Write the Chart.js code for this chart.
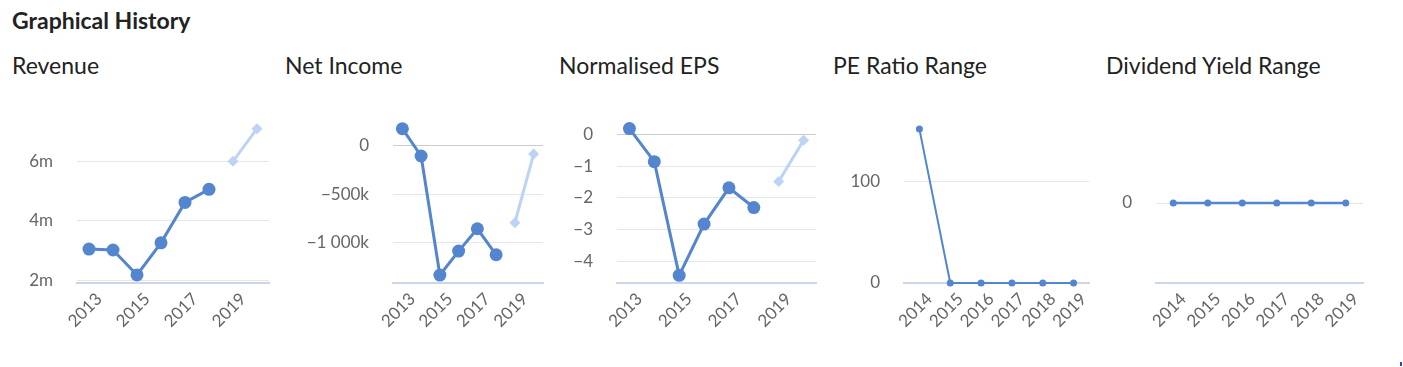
<!DOCTYPE html>
<html>
<head>
<meta charset="utf-8">
<script src="https://cdn.jsdelivr.net/npm/chart.js@4"></script>
<style>
  body { margin: 0; background: #fff; font-family: Lato, sans-serif; }
  .wrap { position: relative; width: 1403px; height: 367px; overflow: hidden; }
  h2 { position: absolute; left: 12px; top: 9px; margin: 0; font-size: 23px; line-height: 1; font-weight: 700; color: #222; }
  .sub { position: absolute; top: 54px; margin: 0; font-size: 23px; line-height: 1; font-weight: 400; color: #222; white-space: nowrap; }
  .box { position: absolute; top: 100px; height: 250px; }
  .dot { position: absolute; left: 1400px; top: 362px; width: 2px; height: 4px; background: #2a3cf0; }
</style>
</head>
<body>
<div class="wrap">
  <h2>Graphical History</h2>
  <div class="sub" style="left:12px">Revenue</div>
  <div class="sub" style="left:285px">Net Income</div>
  <div class="sub" style="left:559px">Normalised EPS</div>
  <div class="sub" style="left:833px">PE Ratio Range</div>
  <div class="sub" style="left:1106px">Dividend Yield Range</div>

  <div class="box" style="left:10px;width:270px"><canvas id="revenue"></canvas></div>
  <div class="box" style="left:285px;width:270px"><canvas id="netIncome"></canvas></div>
  <div class="box" style="left:555px;width:275px"><canvas id="eps"></canvas></div>
  <div class="box" style="left:830px;width:270px"><canvas id="pe"></canvas></div>
  <div class="box" style="left:1100px;width:300px"><canvas id="dividend"></canvas></div>
  <div class="dot"></div>
</div>
<script>
// data
const years = ['2013', '2014', '2015', '2016', '2017', '2018', '2019', '2020'];
const rangeYears = ['2014', '2015', '2016', '2017', '2018', '2019'];

const revenueActual = [3050000, 3020000, 2180000, 3260000, 4620000, 5060000, null, null];
const revenueForecast = [null, null, null, null, null, null, 6000000, 7100000];
const revenueTicks = [2000000, 4000000, 6000000];
const revenueTickLabels = ['2m', '4m', '6m'];

const netIncomeActual = [175000, -106000, -1333000, -1086000, -856000, -1124000, null, null];
const netIncomeForecast = [null, null, null, null, null, null, -794000, -86000];
const netIncomeTicks = [0, -500000, -1000000];
const netIncomeTickLabels = ['0', '\u2212500k', '\u22121 000k'];

const epsActual = [0.18, -0.86, -4.43, -2.82, -1.68, -2.30, null, null];
const epsForecast = [null, null, null, null, null, null, -1.48, -0.19];
const epsTicks = [0, -1, -2, -3, -4];
const epsTickLabels = ['0', '\u22121', '\u22122', '\u22123', '\u22124'];

const peValues = [151, 0, 0, 0, 0, 0];
const peTicks = [0, 100];
const peTickLabels = ['0', '100'];

const dividendValues = [0, 0, 0, 0, 0, 0];
const dividendTicks = [0];
const dividendTickLabels = ['0'];

Chart.defaults.font.family = 'Lato';
Chart.defaults.color = '#666666';

const BLUE = '#5485cf';
const LIGHT = '#bdd3f6';

function lineChart(id, o) {
  const datasets = [{
    data: o.actual,
    borderColor: BLUE,
    backgroundColor: BLUE,
    borderWidth: o.lw,
    pointRadius: o.pr,
    pointHoverRadius: o.pr,
    pointBorderWidth: 0,
    pointStyle: 'circle',
    clip: false
  }];
  if (o.forecast) {
    datasets.push({
      data: o.forecast,
      borderColor: LIGHT,
      backgroundColor: LIGHT,
      borderWidth: o.lw,
      pointRadius: 5.5,
      pointHoverRadius: 5.5,
      pointBorderWidth: 0,
      pointStyle: 'rectRot',
      clip: false
    });
  }
  new Chart(document.getElementById(id), {
    type: 'line',
    data: { labels: o.labels, datasets: datasets },
    options: {
      responsive: true,
      maintainAspectRatio: false,
      animation: false,
      layout: { padding: { top: 23, right: o.rp, left: 0, bottom: 0 } },
      plugins: { legend: { display: false }, tooltip: { enabled: false } },
      scales: {
        x: {
          offset: true,
          grid: { display: false, drawTicks: false },
          border: { color: '#ccd6eb', width: 2 },
          ticks: {
            autoSkip: false, minRotation: 45, maxRotation: 45,
            padding: 6, labelOffset: 10, font: { size: 17 },
            callback: (v, i) => (o.every2 && i % 2) ? '' : o.labels[i]
          },
          afterFit: s => { s.height = 67; s.paddingLeft = 0; s.paddingRight = 0; }
        },
        y: {
          min: o.min,
          max: o.max,
          border: { display: false },
          grid: {
            drawTicks: false,
            color: c => (c.tick && c.tick.value === 0) ? o.zeroColor : '#e6e6e6'
          },
          ticks: {
            padding: 24,
            font: { size: 17 },
            callback: v => o.tickLabels[o.ticks.indexOf(v)]
          },
          afterBuildTicks: s => { s.ticks = o.ticks.map(v => ({ value: v })); },
          afterFit: s => { s.width = o.yw; s.paddingTop = 0; s.paddingBottom = 0; }
        }
      }
    }
  });
}

lineChart('revenue', {
  labels: years, actual: revenueActual, forecast: revenueForecast,
  ticks: revenueTicks, tickLabels: revenueTickLabels,
  min: 1910000, max: 7290000, yw: 67, rp: 11, lw: 3, pr: 6.5, every2: true, zeroColor: '#e6e6e6'
});
lineChart('netIncome', {
  labels: years, actual: netIncomeActual, forecast: netIncomeForecast,
  ticks: netIncomeTicks, tickLabels: netIncomeTickLabels,
  min: -1415000, max: 234000, yw: 108, rp: 12, lw: 3, pr: 6.5, every2: true, zeroColor: '#cccccc'
});
lineChart('eps', {
  labels: years, actual: epsActual, forecast: epsForecast,
  ticks: epsTicks, tickLabels: epsTickLabels,
  min: -4.67, max: 0.355, yw: 62, rp: 14, lw: 3, pr: 6.5, every2: true, zeroColor: '#cccccc'
});
lineChart('pe', {
  labels: rangeYears, actual: peValues,
  ticks: peTicks, tickLabels: peTickLabels,
  min: 0, max: 157, yw: 74, rp: 11, lw: 2, pr: 3.5, every2: false, zeroColor: '#e6e6e6'
});
lineChart('dividend', {
  labels: rangeYears, actual: dividendValues,
  ticks: dividendTicks, tickLabels: dividendTickLabels,
  min: -1, max: 1, yw: 56, rp: 37, lw: 2.5, pr: 3.5, every2: false, zeroColor: '#e6e6e6'
});
</script>
</body>
</html>
